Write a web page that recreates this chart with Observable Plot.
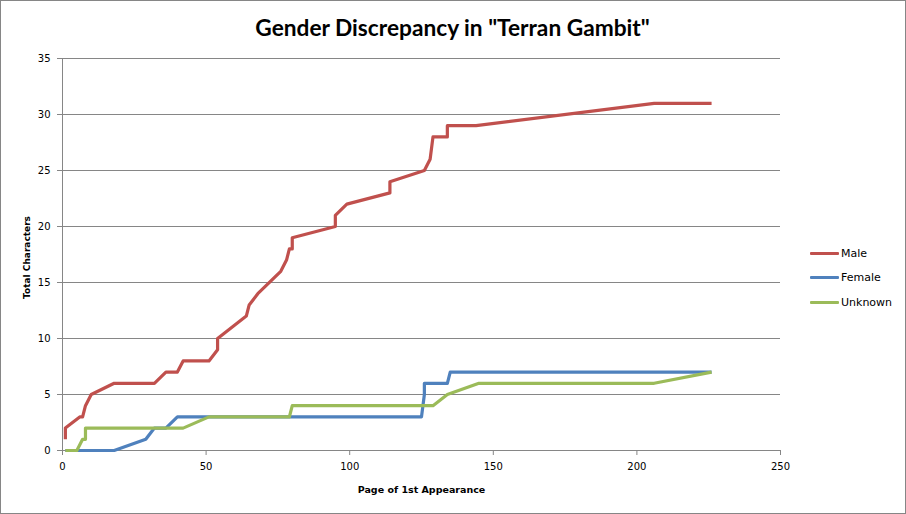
<!DOCTYPE html>
<html><head><meta charset="utf-8">
<script src="https://cdn.jsdelivr.net/npm/d3@7"></script>
<script src="https://cdn.jsdelivr.net/npm/@observablehq/plot@0.6"></script>
<style>
body{margin:0;background:#fff}
#wrap{position:relative;width:906px;height:514px;overflow:hidden;background:#fff}
#chart{position:absolute;left:0;top:0}
#border{position:absolute;left:0;top:0;width:906px;height:514px;box-sizing:border-box;border:1px solid #868686;pointer-events:none}
#legend{position:absolute;left:810px;top:241px;font-family:"DejaVu Sans",Verdana,sans-serif;font-size:11px;color:#000}
.item{display:flex;align-items:center;height:24.5px}
.swatch{width:29px;height:3px;margin-right:2px;border-radius:1px}
</style></head><body>
<div id="wrap"><div id="chart"></div><div id="legend"></div><div id="border"></div></div>
<script>
const titleText = 'Gender Discrepancy in "Terran Gambit"';
const xLabel = "Page of 1st Appearance";
const yLabel = "Total Characters";
const xTicks = [0, 50, 100, 150, 200, 250];
const yTicks = [0, 5, 10, 15, 20, 25, 30, 35];

const seriesNames = ["Male", "Female", "Unknown"];
const seriesColors = ["#C0504D", "#4F81BD", "#9BBB59"];

const malePages = [1, 1, 6, 7, 8, 10, 18, 32, 36, 40, 42, 51, 54, 54, 64, 65, 68, 76, 78, 79, 80, 80, 95, 95, 99, 114, 114, 126, 128, 129, 134, 134, 144, 206, 226];
const maleCount = [1, 2, 3, 3, 4, 5, 6, 6, 7, 7, 8, 8, 9, 10, 12, 13, 14, 16, 17, 18, 18, 19, 20, 21, 22, 23, 24, 25, 26, 28, 28, 29, 29, 31, 31];

const femalePages = [1, 18, 29, 32, 36, 40, 125, 126, 126, 134, 135, 226];
const femaleCount = [0, 0, 1, 2, 2, 3, 3, 5, 6, 6, 7, 7];

const unknownPages = [1, 5, 7, 8, 8, 42, 51, 79, 80, 129, 134, 145, 206, 226];
const unknownCount = [0, 0, 1, 1, 2, 2, 3, 3, 4, 4, 5, 6, 6, 7];

const toRows = (pages, counts) => pages.map((p, i) => ({page: p, count: counts[i]}));
const series = [
  toRows(malePages, maleCount),
  toRows(femalePages, femaleCount),
  toRows(unknownPages, unknownCount)
];

const grid = "#868686";
const chart = Plot.plot({
  width: 906,
  height: 514,
  marginLeft: 62,
  marginRight: 126,
  marginTop: 58,
  marginBottom: 64,
  style: {fontFamily: "'DejaVu Sans', Verdana, sans-serif", fontSize: "10px", color: "#000", background: "#fff"},
  x: {domain: [0, 250]},
  y: {domain: [0, 35]},
  marks: [
    Plot.ruleY(yTicks.filter(d => d > 0), {stroke: grid, strokeWidth: 1}),
    Plot.ruleY([0], {stroke: grid, strokeWidth: 1}),
    Plot.ruleX([0], {stroke: grid, strokeWidth: 1}),
    Plot.axisY(yTicks, {tickSize: 5, tickPadding: 7, stroke: grid, fill: "#000", label: null, fontSize: 10}),
    Plot.axisX(xTicks, {tickSize: 5, tickPadding: 7, stroke: grid, fill: "#000", label: null, fontSize: 10}),
    ...series.map((rows, i) => Plot.line(rows, {x: "page", y: "count", stroke: seriesColors[i], strokeWidth: 3.2, strokeLinejoin: "round", strokeLinecap: "butt"})),
    Plot.text([yLabel], {frameAnchor: "left", dx: -35, dy: 3, rotate: -90, textAnchor: "middle", lineAnchor: "middle", fontWeight: "bold", fontSize: 9}),
    Plot.text([xLabel], {frameAnchor: "bottom", dy: 39, textAnchor: "middle", lineAnchor: "middle", fontWeight: "bold", fontSize: 9.5}),
    Plot.text([titleText], {frameAnchor: "top", dy: -30, dx: 31, textAnchor: "middle", lineAnchor: "middle", fontFamily: "Lato", fontSize: 22.7, fontWeight: "bold"})
  ]
});
document.getElementById("chart").appendChild(chart);

const legend = document.getElementById("legend");
seriesNames.forEach((name, i) => {
  const item = document.createElement("div");
  item.className = "item";
  const sw = document.createElement("span");
  sw.className = "swatch";
  sw.style.background = seriesColors[i];
  const label = document.createElement("span");
  label.textContent = name;
  item.appendChild(sw);
  item.appendChild(label);
  legend.appendChild(item);
});
</script>
</body></html>
